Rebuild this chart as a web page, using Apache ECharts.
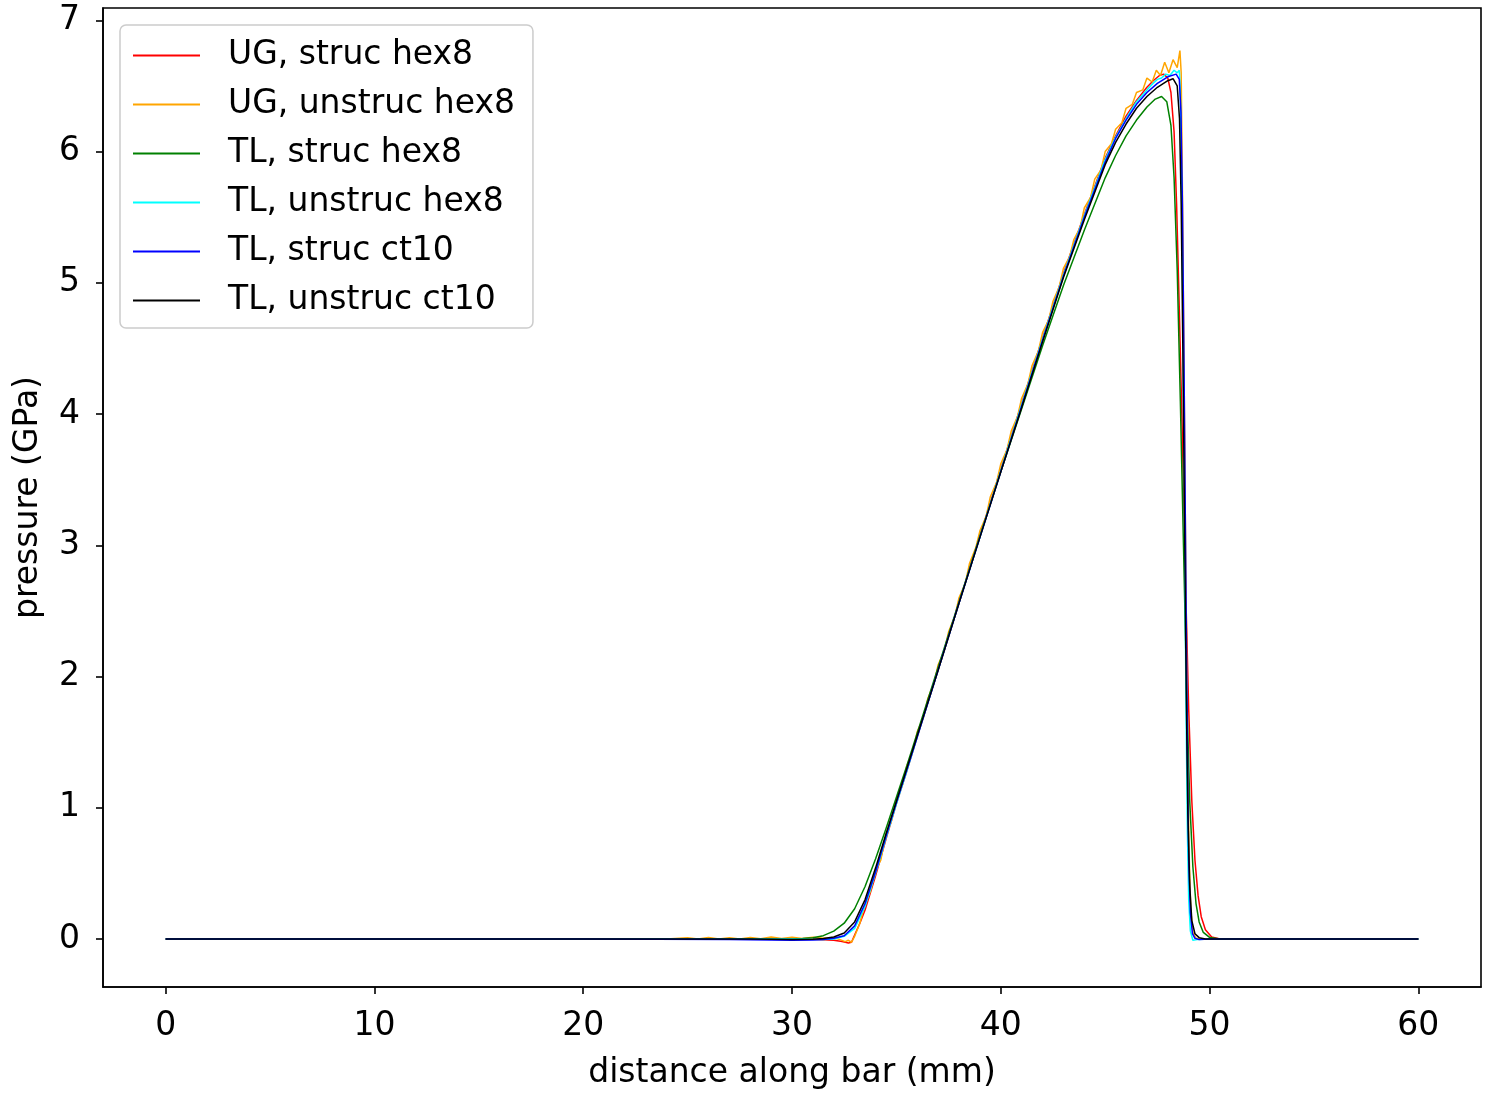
<!DOCTYPE html>
<html>
<head>
<meta charset="utf-8">
<script src="https://cdn.jsdelivr.net/npm/echarts@6/dist/echarts.min.js"></script>
<style>
html,body{margin:0;padding:0;background:#fff;}
#chart{width:1486px;height:1096px;}
</style>
</head>
<body>
<div id="chart"></div>
<script>
// ---- data ----
const seriesNames = ["UG, struc hex8","UG, unstruc hex8","TL, struc hex8","TL, unstruc hex8","TL, struc ct10","TL, unstruc ct10"];
const xTicks = [0,10,20,30,40,50,60];
const yTicks = [0,1,2,3,4,5,6,7];

const ugStrucHex8 = [[0,0],[10,0],[20,0],[25,0.002],[30,0],[31,-0.003],[31.5,-0.006],[32,-0.01],[32.4,-0.02],[32.7,-0.03],[32.85,-0.025],[33,0.03],[33.25,0.12],[33.5,0.22],[34,0.48],[34.5,0.76],[35,1.03],[35.5,1.28],[36,1.54],[37,2.05],[38,2.56],[39,3.07],[40,3.58],[41,4.08],[42,4.58],[43,5.07],[44,5.52],[45,5.95],[45.5,6.12],[46,6.27],[46.5,6.39],[47,6.49],[47.3,6.54],[47.6,6.58],[47.8,6.59],[48.0,6.56],[48.15,6.45],[48.3,6.15],[48.42,5.6],[48.55,4.8],[48.7,3.8],[48.85,2.7],[49.0,1.75],[49.15,1.05],[49.3,0.6],[49.45,0.33],[49.6,0.17],[49.8,0.07],[50.1,0.015],[50.5,0],[60,0]];

const ugUnstrucHex8 = [[0,0],[10,0],[20,0],[24,0],[25,0.01],[25.5,0],[26,0.012],[26.5,0],[27,0.01],[27.5,0],[28,0.012],[28.5,0.002],[29,0.015],[29.5,0.003],[30,0.014],[30.5,0.004],[31,0.013],[31.5,0.005],[32,0.01],[32.3,-0.005],[32.55,-0.02],[32.7,-0.01],[32.85,-0.025],[33,0.02],[33.25,0.12],[33.5,0.27],[33.75,0.36],[34,0.52],[34.25,0.6],[34.5,0.8],[34.75,0.89],[35,1.06],[35.3,1.18],[35.5,1.32],[35.8,1.44],[36,1.58],[36.3,1.69],[36.5,1.83],[36.8,1.95],[37,2.09],[37.3,2.2],[37.5,2.34],[37.8,2.46],[38,2.6],[38.3,2.71],[38.5,2.86],[38.8,2.98],[39,3.11],[39.3,3.22],[39.5,3.37],[39.8,3.48],[40,3.62],[40.3,3.73],[40.5,3.87],[40.8,3.98],[41,4.12],[41.3,4.23],[41.5,4.37],[41.8,4.48],[42,4.62],[42.3,4.72],[42.5,4.86],[42.8,4.97],[43,5.11],[43.3,5.2],[43.5,5.33],[43.8,5.42],[44,5.57],[44.3,5.65],[44.5,5.79],[44.8,5.86],[45,6.0],[45.3,6.06],[45.5,6.17],[45.8,6.22],[46,6.33],[46.3,6.36],[46.5,6.45],[46.8,6.47],[47,6.56],[47.25,6.53],[47.45,6.62],[47.65,6.58],[47.85,6.68],[48.05,6.6],[48.25,6.7],[48.45,6.64],[48.58,6.77],[48.64,6.6],[48.7,5.7],[48.78,4.3],[48.86,2.8],[48.94,1.5],[49.02,0.65],[49.1,0.22],[49.2,0.05],[49.35,0.005],[49.6,0],[60,0]];

const tlStrucHex8 = [[0,0],[10,0],[20,0],[30,0],[30.5,0.003],[31,0.01],[31.5,0.025],[32,0.06],[32.5,0.12],[33,0.23],[33.5,0.4],[34,0.61],[34.5,0.84],[35,1.08],[35.5,1.32],[36,1.57],[37,2.07],[38,2.57],[39,3.07],[40,3.56],[41,4.04],[42,4.52],[43,4.98],[44,5.4],[45,5.8],[45.5,5.97],[46,6.12],[46.5,6.24],[47,6.34],[47.4,6.4],[47.7,6.42],[47.95,6.38],[48.15,6.2],[48.3,5.8],[48.45,5.1],[48.6,4.1],[48.75,3.0],[48.9,1.9],[49.05,1.05],[49.2,0.55],[49.35,0.27],[49.5,0.13],[49.7,0.05],[50,0.012],[50.5,0],[60,0]];

const tlUnstrucHex8 = [[0,0],[10,0],[20,0],[30,0],[31.5,-0.005],[32,0],[32.5,0.02],[33,0.08],[33.5,0.25],[34,0.5],[34.5,0.77],[35,1.03],[35.5,1.28],[36,1.54],[37,2.05],[38,2.56],[39,3.06],[40,3.57],[41,4.07],[42,4.57],[43,5.06],[44,5.51],[45,5.94],[45.5,6.11],[46,6.25],[46.5,6.38],[47,6.47],[47.3,6.52],[47.5,6.55],[47.7,6.56],[47.9,6.59],[48.1,6.58],[48.3,6.62],[48.45,6.6],[48.55,6.62],[48.6,6.45],[48.66,5.8],[48.73,4.6],[48.8,3.2],[48.87,1.8],[48.94,0.8],[49.0,0.3],[49.08,0.06],[49.2,-0.01],[49.4,-0.005],[50,0],[60,0]];

const tlStrucCt10 = [[0,0],[10,0],[20,0],[27,-0.005],[30,-0.01],[31,-0.008],[31.5,-0.004],[32,0.005],[32.5,0.025],[33,0.1],[33.5,0.27],[34,0.51],[34.5,0.78],[35,1.04],[35.5,1.29],[36,1.54],[37,2.05],[38,2.56],[39,3.06],[40,3.56],[41,4.06],[42,4.56],[43,5.05],[44,5.5],[45,5.92],[45.5,6.1],[46,6.24],[46.5,6.36],[47,6.45],[47.5,6.52],[48,6.57],[48.4,6.59],[48.55,6.55],[48.63,6.3],[48.7,5.6],[48.78,4.3],[48.86,2.8],[48.94,1.4],[49.0,0.6],[49.08,0.2],[49.18,0.04],[49.3,0.005],[49.5,-0.005],[50,0],[60,0]];

const tlUnstrucCt10 = [[0,0],[10,0],[20,0],[28,0],[30,-0.005],[31,-0.003],[31.5,0.003],[32,0.015],[32.5,0.045],[33,0.13],[33.5,0.3],[34,0.54],[34.5,0.8],[35,1.05],[35.5,1.3],[36,1.55],[37,2.05],[38,2.56],[39,3.06],[40,3.56],[41,4.05],[42,4.55],[43,5.04],[44,5.48],[45,5.9],[45.5,6.07],[46,6.21],[46.5,6.33],[47,6.42],[47.5,6.49],[48,6.54],[48.25,6.555],[48.45,6.5],[48.56,6.25],[48.64,5.6],[48.72,4.5],[48.8,3.2],[48.88,1.9],[48.96,0.95],[49.05,0.4],[49.15,0.14],[49.3,0.04],[49.5,0.01],[49.8,0],[55,0],[60,0]];

const seriesData = [ugStrucHex8, ugUnstrucHex8, tlStrucHex8, tlUnstrucHex8, tlStrucCt10, tlUnstrucCt10];
const colors = ["#ff0000","#ffa500","#008000","#00ffff","#0000ff","#000000"];

// ---- chart ----
const FONT = "DejaVu Sans";
const FS = 33;
const chart = echarts.init(document.getElementById('chart'), null, {renderer:'canvas'});
const option = {
  animation:false,
  backgroundColor:'#ffffff',
  textStyle:{fontFamily:FONT},
  grid:{left:103,right:5,top:8,bottom:109,show:true,borderColor:'#000',borderWidth:1.6,backgroundColor:'transparent'},
  legend:{
    orient:'vertical',left:120,top:25,
    padding:[14,18,11,13],
    itemGap:16,itemWidth:67,itemHeight:2,
    icon:'rect',
    backgroundColor:'rgba(255,255,255,0.8)',
    borderColor:'#cccccc',borderWidth:1.5,borderRadius:6,
    textStyle:{fontFamily:FONT,fontSize:FS,color:'#000',lineHeight:33,padding:[0,0,0,23]},
    data:seriesNames
  },
  xAxis:{
    type:'value',min:-3,max:63,
    name:'distance along bar (mm)',nameLocation:'middle',nameGap:70,
    nameTextStyle:{fontFamily:FONT,fontSize:FS,color:'#000'},
    axisLine:{show:true,onZero:false,lineStyle:{color:'#000',width:1.6}},
    axisTick:{show:true,length:7,inside:false,lineStyle:{color:'#000',width:1.6},customValues:xTicks},
    axisLabel:{fontFamily:FONT,fontSize:FS,color:'#000',margin:23,customValues:xTicks},
    splitLine:{show:false}
  },
  yAxis:{
    type:'value',min:-0.366,max:7.094,
    name:'pressure (GPa)',nameLocation:'middle',nameGap:58,nameRotate:90,
    nameTextStyle:{fontFamily:FONT,fontSize:FS,color:'#000'},
    axisLine:{show:true,onZero:false,lineStyle:{color:'#000',width:1.6}},
    axisTick:{show:true,length:7,inside:false,lineStyle:{color:'#000',width:1.6},customValues:yTicks},
    axisLabel:{fontFamily:FONT,fontSize:FS,color:'#000',margin:23,customValues:yTicks},
    splitLine:{show:false}
  },
  series: seriesNames.map((n,i)=>({
    name:n,type:'line',data:seriesData[i],
    showSymbol:false,symbol:'none',
    lineStyle:{color:colors[i],width:1.5},
    itemStyle:{color:colors[i]},
    emphasis:{disabled:true}
  }))
};
chart.setOption(option);
</script>
</body>
</html>
